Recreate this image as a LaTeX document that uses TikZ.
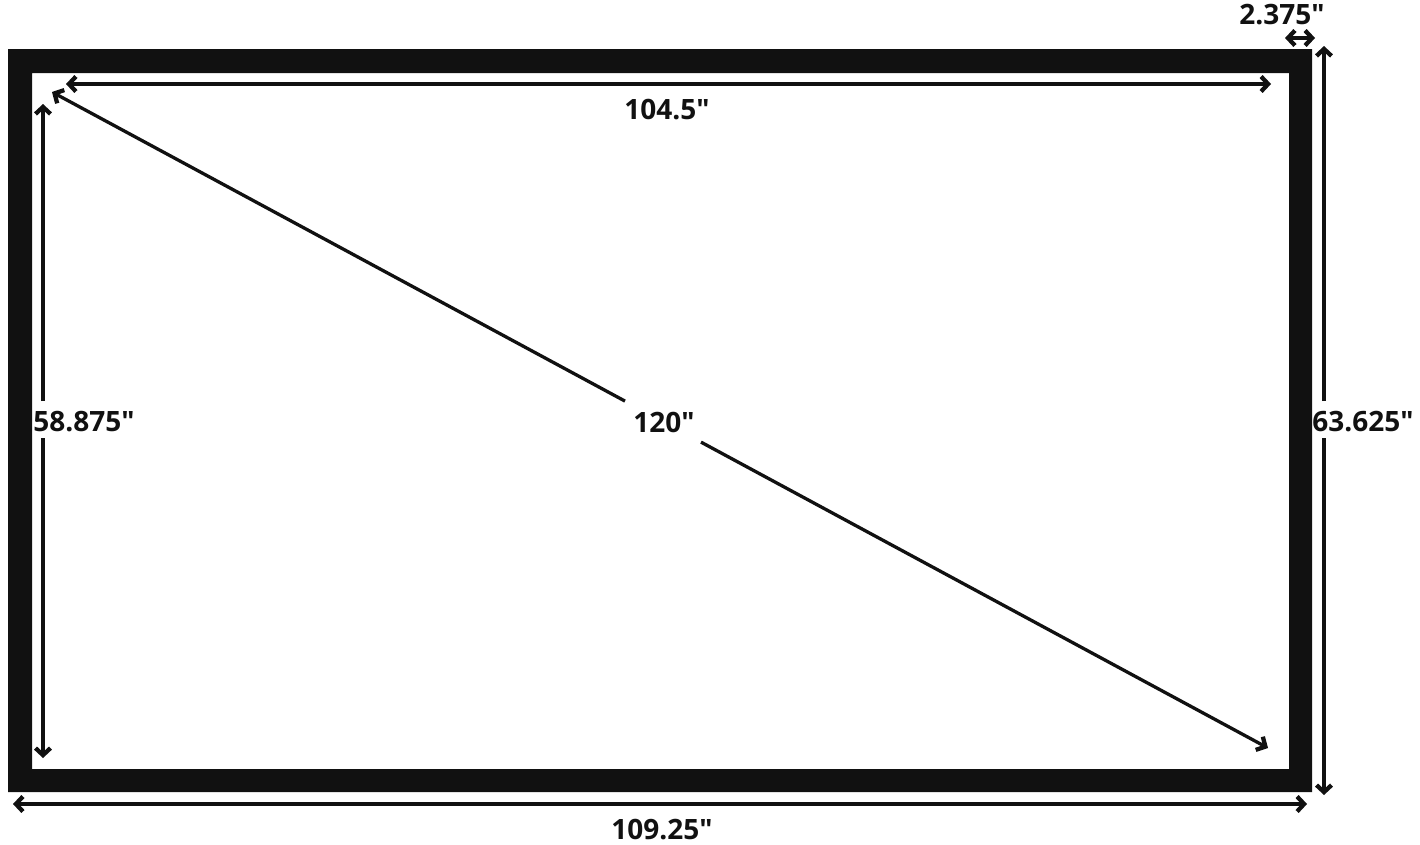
\documentclass[tikz,border=0pt]{standalone}
\usepackage{fontspec}
\setmainfont{Open Sans}[Ligatures=TeXOff]
\usetikzlibrary{arrows.meta}
\definecolor{framec}{HTML}{111111}
\definecolor{inkc}{HTML}{111111}
\tikzset{
  tipc/.tip={Straight Barb[length=7pt,width=15pt,line width=0pt 1.3]},
  dim/.style={draw=inkc, line width=3.3pt, -tipc},
  dimboth/.style={draw=inkc, line width=3.3pt, tipc-tipc},
  lbl/.style={font=\fontsize{28}{30}\selectfont\bfseries, text=inkc, inner sep=0pt},
  gap/.style={circle, minimum size=86pt, inner sep=0pt}
}
\begin{document}
\begin{tikzpicture}[x=1pt,y=-1pt]
\useasboundingbox (0,0) rectangle (1420,844);
% frame
\fill[framec, even odd rule] (8,49) rectangle (1312,792) (32,73) rectangle (1289,769);
% coordinates
\coordinate (TL) at (66,84);
\coordinate (TR) at (1271,84);
\coordinate (BL) at (13,804);
\coordinate (BR) at (1307,804);
\coordinate (SL) at (1285,38);
\coordinate (SR) at (1315,38);
\coordinate (VLt) at (43,104);
\coordinate (VLb) at (43,758);
\coordinate (VLg1) at (43,401);
\coordinate (VLg2) at (43,438);
\coordinate (VRt) at (1324,46);
\coordinate (VRb) at (1324,795);
\coordinate (VRg1) at (1324,401);
\coordinate (VRg2) at (1324,438);
\coordinate (DA) at (52,92);
\coordinate (DB) at (1268,748);
% labels
\node[lbl] (l104) at (667,110) {104.5"};
\node[lbl] (l109) at (662,830) {109.25"};
\node[lbl] (l2375) at (1282,15) {2.375"};
\node[lbl] (l58) at (84,422) {58.875"};
\node[lbl] (l63) at (1363,422) {63.625"};
\node[lbl] (l120) at (664,422) {120"};
\node[gap] (dgap) at (663,421.6) {};
% dimension arrows
\draw[dimboth] (TL) -- (TR);
\draw[dimboth] (BL) -- (BR);
\draw[dimboth] (SL) -- (SR);
\draw[dim] (VLg1) -- (VLt);
\draw[dim] (VLg2) -- (VLb);
\draw[dim] (VRg1) -- (VRt);
\draw[dim] (VRg2) -- (VRb);
\draw[dim] (dgap) -- (DA);
\draw[dim] (dgap) -- (DB);
\end{tikzpicture}
\end{document}
